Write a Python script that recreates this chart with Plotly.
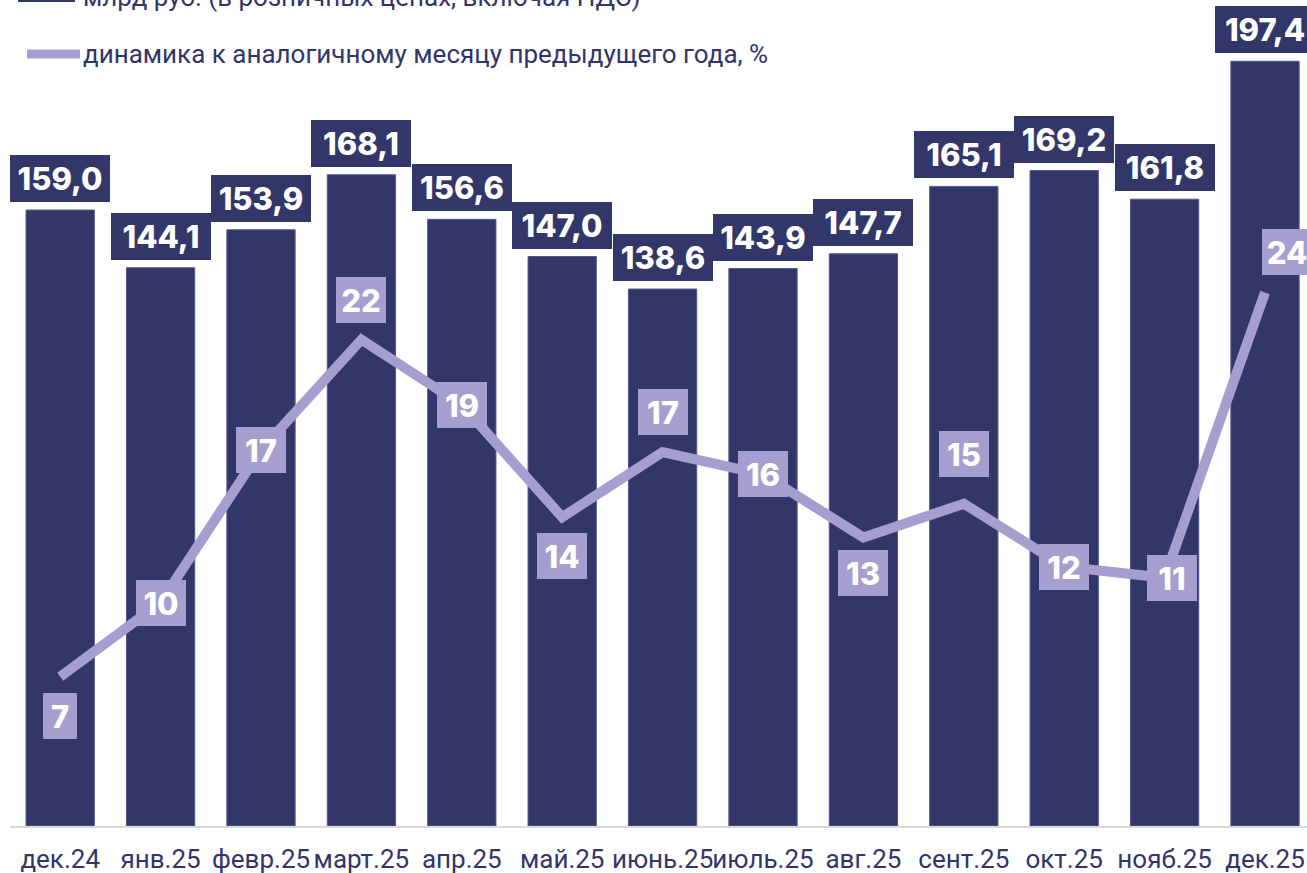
import plotly.graph_objects as go

# ---------------- data ----------------
months = ["дек.24", "янв.25", "февр.25", "март.25", "апр.25", "май.25", "июнь.25",
          "июль.25", "авг.25", "сент.25", "окт.25", "нояб.25", "дек.25"]
sales_bln = [159.0, 144.1, 153.9, 168.1, 156.6, 147.0, 138.6, 143.9, 147.7, 165.1, 169.2, 161.8, 197.4]
growth_pct = [7.0, 10.3, 17.1, 22.0, 19.1, 14.1, 17.0, 16.0, 13.2, 14.7, 11.9, 11.4, 24.1]
legend_bar = "млрд руб. (в розничных ценах, включая НДС)"
legend_line = "динамика к аналогичному месяцу предыдущего года, %"

# ---------------- style ----------------
NAVY = "#323669"
LAV = "#a59ecf"
TXT = "#31356a"
W, H = 1307, 873
ML, MR, MT, MB = 10, 0, 0, 47
PW, PH = W - ML - MR, H - MT - MB

# label placement for the growth labels: (anchor, yshift px, xshift px)
growth_label_pos = [("top", -16, 0), ("middle", 0, 0), ("middle", 0, 0), ("bottom", 17, 0),
                    ("middle", 0, 0), ("top", -16, 0), ("bottom", 17, 0), ("middle", 0, 0),
                    ("top", -13, 0), ("bottom", 27, 0), ("middle", 0, 0), ("middle", 0, 7),
                    ("bottom", 17, 22)]

fig = go.Figure()
fig.add_trace(go.Bar(x=months, y=sales_bln, marker=dict(color=NAVY, line=dict(color="#54588a", width=1)),
                     name=legend_bar, showlegend=False, hoverinfo="skip"))
fig.add_trace(go.Scatter(x=months, y=growth_pct, yaxis="y2", mode="lines",
                         line=dict(color=LAV, width=10), name=legend_line,
                         showlegend=False, hoverinfo="skip"))

ann = []
for m, v in zip(months, sales_bln):
    ann.append(dict(x=m, y=v, xref="x", yref="y", text=f"{v:.1f}".replace(".", ","),
                    showarrow=False, xanchor="center", yanchor="bottom", yshift=8,
                    font=dict(family="Inter", size=31, color="white", weight=800),
                    bgcolor=NAVY, borderpad=4, borderwidth=0, width=92, height=39))
for m, v, (anc, ys, xs) in zip(months, growth_pct, growth_label_pos):
    t = f"{int(v + 0.5)}"
    ann.append(dict(x=m, y=v, xref="x", yref="y2", text=t,
                    showarrow=False, xanchor="center", yanchor=anc, yshift=ys, xshift=xs,
                    font=dict(family="Inter", size=31, color="white", weight=800),
                    bgcolor=LAV, borderpad=4, borderwidth=0,
                    width=10 + 16 * len(t), height=38))

def px2paper(px, py):
    return (px - ML) / PW, (H - MB - py) / PH

# manual legend
shapes = []
for (x0, x1, yy, col, lw) in [(18, 75, 0, NAVY, 4), (27, 80, 54, LAV, 9)]:
    a, b = px2paper(x0, yy)
    c, _ = px2paper(x1, yy)
    shapes.append(dict(type="line", xref="paper", yref="paper", x0=a, x1=c, y0=b, y1=b,
                       line=dict(color=col, width=lw)))
for (txt, yy) in [(legend_bar, -3), (legend_line, 54)]:
    a, b = px2paper(81, yy)
    ann.append(dict(x=a, y=b, xref="paper", yref="paper", text=txt, showarrow=False,
                    xanchor="left", yanchor="middle",
                    font=dict(family="Roboto", size=26, color=TXT)))

fig.update_layout(
    width=W, height=H, margin=dict(l=ML, r=MR, t=MT, b=MB, autoexpand=False),
    paper_bgcolor="white", plot_bgcolor="white",
    bargap=0.32,
    xaxis=dict(type="category", range=[-0.5, -0.5 + PW / 100.4], showline=True,
               linecolor="#d9d9d9", linewidth=2, ticks="", showgrid=False,
               ticklabelstandoff=9, tickangle=0, automargin=False,
               tickfont=dict(family="Roboto", size=26, color=TXT)),
    yaxis=dict(range=[0, PH / 3.874], visible=False, showgrid=False, zeroline=False),
    yaxis2=dict(range=[0.356, 0.356 + PH / 22.47], overlaying="y", visible=False,
                showgrid=False, zeroline=False),
    annotations=ann, shapes=shapes,
)

fig.write_html("out.html", config={"displayModeBar": False},
               post_script="document.body.style.margin='0px';")
